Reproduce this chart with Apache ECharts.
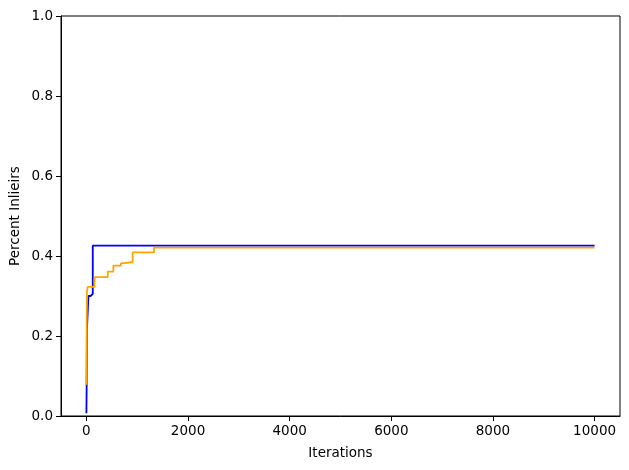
<!DOCTYPE html>
<html><head><meta charset="utf-8">
<script src="https://cdn.jsdelivr.net/npm/echarts@6/dist/echarts.min.js"></script>
<style>html,body{margin:0;padding:0;background:#fff}#c{width:629px;height:470px}</style>
</head><body><div id="c"></div>
<script>
const blueX = [0, 5, 10, 40, 80, 125, 10000];
const blueY = [0.007, 0.075, 0.215, 0.300, 0.305, 0.426, 0.426];
const orangeX = [0, 10, 25, 160, 420, 530, 680, 760, 910, 1330, 10000];
const orangeY = [0.078, 0.311, 0.323, 0.347, 0.361, 0.376, 0.382, 0.385, 0.409, 0.421, 0.421];
const xTicks = [0, 2000, 4000, 6000, 8000, 10000];
const xLabel = 'Iterations';
const yLabel = 'Percent Inlieirs';

const font = 'DejaVu Sans';
const chart = echarts.init(document.getElementById('c'), null, {renderer: 'canvas'});
chart.setOption({
  animation: false,
  backgroundColor: '#fff',
  grid: {left: 61, top: 16, right: 9, bottom: 54, containLabel: false, outerBoundsMode: 'none',
         show: true, borderColor: '#000', borderWidth: 1, backgroundColor: 'transparent'},
  xAxis: {
    type: 'value', min: -500, max: 10500,
    name: xLabel, nameLocation: 'middle', nameGap: 30, nameMoveOverlap: false,
    nameTextStyle: {fontFamily: font, fontSize: 13.5, color: '#000'},
    axisLine: {show: true, onZero: false, lineStyle: {color: '#000', width: 1}},
    axisTick: {show: true, inside: false, length: 5, customValues: xTicks, lineStyle: {color: '#000'}},
    axisLabel: {customValues: xTicks, fontFamily: font, fontSize: 13.5, color: '#000', margin: 8, formatter: v => String(v)},
    splitLine: {show: false}
  },
  yAxis: {
    type: 'value', min: 0, max: 1, interval: 0.2,
    name: yLabel, nameLocation: 'middle', nameGap: 39, nameMoveOverlap: false,
    nameTextStyle: {fontFamily: font, fontSize: 13.5, color: '#000'},
    axisLine: {show: true, onZero: false, lineStyle: {color: '#000', width: 1}},
    axisTick: {show: true, inside: false, length: 5, lineStyle: {color: '#000'}},
    axisLabel: {fontFamily: font, fontSize: 13.5, color: '#000', margin: 8, formatter: v => v.toFixed(1)},
    splitLine: {show: false}
  },
  series: [
    {type: 'line', step: 'end', showSymbol: false, data: blueX.map((x, i) => [x, blueY[i]]),
     lineStyle: {color: '#0000ff', width: 1.8}, itemStyle: {color: '#0000ff'}},
    {type: 'line', step: 'end', showSymbol: false, data: orangeX.map((x, i) => [x, orangeY[i]]),
     lineStyle: {color: '#ffa500', width: 1.8}, itemStyle: {color: '#ffa500'}}
  ]
});
</script></body></html>
